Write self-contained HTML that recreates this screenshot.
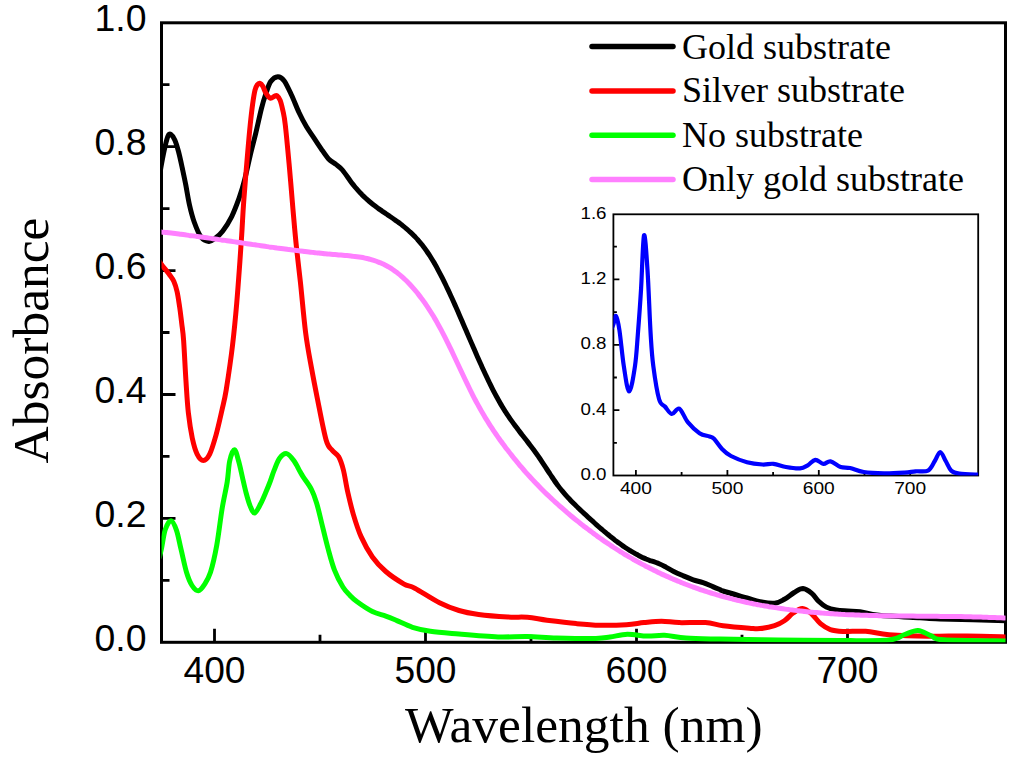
<!DOCTYPE html>
<html><head><meta charset="utf-8"><style>html,body{margin:0;padding:0;background:#fff;width:1024px;height:762px;overflow:hidden}svg{display:block}</style></head><body>
<svg width="1024" height="762" viewBox="0 0 1024 762">
<rect x="0" y="0" width="1024" height="762" fill="#fff"/>
<defs><clipPath id="cp"><rect x="161.5" y="22.8" width="844.0" height="619.5"/></clipPath><clipPath id="cpi"><rect x="613.4" y="214.3" width="364.80000000000007" height="261.2"/></clipPath></defs>
<rect x="161.5" y="22.8" width="844.0" height="619.5" fill="none" stroke="#000" stroke-width="3.0"/>
<path d="M214.5,642.3 V628.8 M320.0,642.3 V634.8 M425.5,642.3 V628.8 M531.0,642.3 V634.8 M636.5,642.3 V628.8 M742.0,642.3 V634.8 M847.5,642.3 V628.8 M953.0,642.3 V634.8 M161.5,580.3 H169.5 M161.5,518.4 H175.5 M161.5,456.4 H169.5 M161.5,394.5 H175.5 M161.5,332.5 H169.5 M161.5,270.6 H175.5 M161.5,208.6 H169.5 M161.5,146.7 H175.5 M161.5,84.7 H169.5" stroke="#000" stroke-width="2.8" fill="none"/>
<text x="146.5" y="650.8" text-anchor="end" font-family="'Liberation Sans', sans-serif" font-size="36" textLength="52" lengthAdjust="spacingAndGlyphs">0.0</text>
<text x="146.5" y="526.9" text-anchor="end" font-family="'Liberation Sans', sans-serif" font-size="36" textLength="52" lengthAdjust="spacingAndGlyphs">0.2</text>
<text x="146.5" y="403.0" text-anchor="end" font-family="'Liberation Sans', sans-serif" font-size="36" textLength="52" lengthAdjust="spacingAndGlyphs">0.4</text>
<text x="146.5" y="279.1" text-anchor="end" font-family="'Liberation Sans', sans-serif" font-size="36" textLength="52" lengthAdjust="spacingAndGlyphs">0.6</text>
<text x="146.5" y="155.2" text-anchor="end" font-family="'Liberation Sans', sans-serif" font-size="36" textLength="52" lengthAdjust="spacingAndGlyphs">0.8</text>
<text x="146.5" y="31.3" text-anchor="end" font-family="'Liberation Sans', sans-serif" font-size="36" textLength="52" lengthAdjust="spacingAndGlyphs">1.0</text>
<text x="183.5" y="683" font-family="'Liberation Sans', sans-serif" font-size="36" textLength="62" lengthAdjust="spacingAndGlyphs">400</text>
<text x="394.5" y="683" font-family="'Liberation Sans', sans-serif" font-size="36" textLength="62" lengthAdjust="spacingAndGlyphs">500</text>
<text x="605.5" y="683" font-family="'Liberation Sans', sans-serif" font-size="36" textLength="62" lengthAdjust="spacingAndGlyphs">600</text>
<text x="816.5" y="683" font-family="'Liberation Sans', sans-serif" font-size="36" textLength="62" lengthAdjust="spacingAndGlyphs">700</text>
<text x="405" y="742" font-family="'Liberation Serif', serif" font-size="51.5">Wavelength (nm)</text>
<text transform="translate(47.5,463.5) rotate(-90)" x="0" y="0" font-family="'Liberation Serif', serif" font-size="51.5">Absorbance</text>
<g clip-path="url(#cp)" fill="none" stroke-linejoin="round" stroke-linecap="round">
<path d="M159.0,180.0 C159.4,177.3 160.4,169.8 161.5,164.0 C162.6,158.2 164.2,150.2 165.3,145.5 C166.4,140.8 167.1,137.9 168.0,136.0 C168.9,134.1 169.7,133.6 170.8,134.3 C171.9,135.0 173.5,137.1 174.8,140.0 C176.1,142.9 177.3,147.0 178.5,151.5 C179.7,156.0 180.9,161.6 182.1,167.2 C183.3,172.8 184.6,178.7 185.8,185.0 C187.0,191.3 188.1,198.8 189.5,205.0 C190.9,211.2 192.3,216.7 194.2,222.0 C196.1,227.3 198.6,233.8 201.0,237.0 C203.4,240.2 206.5,241.2 208.8,241.4 C211.1,241.7 212.7,240.2 215.0,238.5 C217.3,236.8 219.8,235.0 222.6,231.3 C225.4,227.7 228.9,222.1 231.7,216.6 C234.4,211.1 236.9,204.3 239.1,198.2 C241.2,192.1 242.8,186.9 244.6,179.8 C246.4,172.8 248.3,163.6 250.1,155.9 C251.9,148.2 253.7,141.7 255.6,133.9 C257.5,126.1 259.6,115.9 261.3,109.1 C263.0,102.3 264.4,97.9 266.0,93.3 C267.6,88.7 268.7,84.3 270.7,81.5 C272.7,78.7 275.6,76.8 277.8,76.7 C280.0,76.6 281.8,77.7 284.1,80.7 C286.4,83.8 289.0,89.7 291.5,95.0 C294.0,100.3 296.5,107.2 299.0,112.5 C301.5,117.8 304.0,122.6 306.5,126.8 C309.0,131.0 311.4,134.1 313.9,137.8 C316.3,141.5 318.8,145.3 321.2,148.8 C323.6,152.3 326.1,156.3 328.6,158.9 C331.1,161.5 333.7,162.6 336.0,164.4 C338.3,166.2 340.1,167.3 342.4,170.0 C344.7,172.7 348.1,177.8 350.0,180.4 C351.9,183.1 352.7,184.0 354.0,185.7 C355.3,187.4 356.7,188.9 358.0,190.4 C359.3,191.9 360.7,193.3 362.0,194.7 C363.3,196.0 364.7,197.3 366.0,198.5 C367.3,199.8 368.7,200.9 370.0,202.0 C371.3,203.1 372.7,204.2 374.0,205.2 C375.3,206.3 376.7,207.3 378.0,208.2 C379.3,209.2 380.7,210.1 382.0,211.1 C383.3,212.0 384.7,212.9 386.0,213.8 C387.3,214.7 388.7,215.6 390.0,216.5 C391.3,217.4 392.7,218.3 394.0,219.3 C395.3,220.2 396.7,221.1 398.0,222.1 C399.3,223.1 400.7,224.1 402.0,225.1 C403.3,226.2 404.7,227.2 406.0,228.4 C407.3,229.5 408.7,230.6 410.0,231.9 C411.3,233.1 412.7,234.4 414.0,235.7 C415.3,237.1 416.7,238.5 418.0,240.0 C419.3,241.5 420.7,243.1 422.0,244.8 C423.3,246.5 424.7,248.2 426.0,250.1 C427.3,252.0 428.7,254.0 430.0,256.0 C431.3,258.1 432.7,260.3 434.0,262.6 C435.3,264.9 436.7,267.3 438.0,269.8 C439.3,272.2 440.7,274.8 442.0,277.4 C443.3,280.0 444.7,282.8 446.0,285.5 C447.3,288.3 448.7,291.1 450.0,294.0 C451.3,296.9 452.7,299.8 454.0,302.8 C455.3,305.8 456.7,308.8 458.0,311.8 C459.3,314.9 460.7,317.9 462.0,321.0 C463.3,324.1 464.7,327.2 466.0,330.3 C467.3,333.4 468.7,336.5 470.0,339.6 C471.3,342.7 472.7,345.8 474.0,348.8 C475.3,351.9 476.7,355.0 478.0,358.0 C479.3,361.0 480.7,364.0 482.0,366.9 C483.3,369.8 484.7,372.7 486.0,375.6 C487.3,378.4 488.7,381.2 490.0,383.9 C491.3,386.6 492.7,389.3 494.0,391.9 C495.3,394.4 496.7,396.9 498.0,399.3 C499.3,401.7 500.7,404.0 502.0,406.3 C503.3,408.5 504.7,410.6 506.0,412.6 C507.3,414.7 508.7,416.6 510.0,418.6 C511.3,420.5 512.7,422.3 514.0,424.1 C515.3,426.0 516.7,427.7 518.0,429.5 C519.3,431.2 520.7,432.9 522.0,434.7 C523.3,436.4 524.7,438.1 526.0,439.8 C527.3,441.5 528.7,443.2 530.0,445.0 C531.3,446.7 532.7,448.5 534.0,450.3 C535.3,452.1 536.7,454.0 538.0,455.9 C539.3,457.8 540.7,459.8 542.0,461.8 C543.3,463.8 544.7,465.9 546.0,467.9 C547.3,470.0 548.7,472.0 550.0,474.0 C551.3,476.0 552.7,478.0 554.0,480.0 C555.3,481.9 556.7,483.8 558.0,485.6 C559.3,487.4 560.7,489.1 562.0,490.7 C563.3,492.3 564.7,493.9 566.0,495.4 C567.3,496.9 568.7,498.3 570.0,499.7 C571.3,501.1 572.7,502.5 574.0,503.8 C575.3,505.1 576.7,506.4 578.0,507.7 C579.3,509.0 580.7,510.2 582.0,511.5 C583.3,512.7 584.7,514.0 586.0,515.2 C587.3,516.4 588.7,517.7 590.0,518.9 C591.3,520.1 592.7,521.3 594.0,522.5 C595.3,523.7 596.7,524.9 598.0,526.1 C599.3,527.2 600.7,528.4 602.0,529.5 C603.3,530.7 604.7,531.8 606.0,532.9 C607.3,534.0 608.7,535.1 610.0,536.2 C611.3,537.2 612.7,538.3 614.0,539.3 C615.3,540.4 616.7,541.4 618.0,542.4 C619.3,543.3 620.7,544.3 622.0,545.2 C623.3,546.2 624.7,547.1 626.0,548.0 C627.3,548.9 628.7,549.7 630.0,550.5 C631.3,551.4 632.7,552.2 634.0,552.9 C635.3,553.7 636.7,554.4 638.0,555.1 C639.3,555.9 640.7,556.5 642.0,557.2 C643.3,557.8 644.7,558.4 646.0,559.0 C647.3,559.5 647.8,559.8 650.0,560.6 C652.2,561.3 656.5,562.6 659.1,563.7 C661.8,564.8 663.5,565.8 665.9,567.1 C668.3,568.4 670.8,570.0 673.7,571.5 C676.6,573.0 680.2,574.5 683.5,575.9 C686.8,577.3 690.0,578.7 693.2,579.8 C696.5,580.9 699.7,581.6 703.0,582.7 C706.3,583.8 710.0,585.5 712.8,586.6 C715.6,587.8 718.3,588.9 720.0,589.6 C721.7,590.3 718.5,589.6 723.0,591.0 C727.5,592.4 740.8,596.2 747.0,598.0 C753.2,599.8 755.4,600.8 760.0,601.7 C764.6,602.6 770.5,603.6 774.6,603.2 C778.7,602.8 781.1,601.1 784.4,599.3 C787.7,597.5 791.1,594.3 794.2,592.5 C797.3,590.7 800.1,588.5 803.0,588.6 C805.9,588.8 809.2,591.3 811.8,593.4 C814.4,595.5 816.2,599.0 818.6,601.3 C821.0,603.6 823.5,605.6 826.4,607.1 C829.3,608.6 832.6,609.4 836.2,610.0 C839.8,610.6 843.9,610.7 847.9,611.0 C851.9,611.3 854.8,611.1 860.0,611.8 C865.2,612.5 869.0,614.3 879.0,615.3 C889.0,616.3 909.8,617.2 920.0,617.8 C930.2,618.4 925.3,618.5 940.0,619.0 C954.7,619.5 996.7,620.4 1008.0,620.7" stroke="#000000" stroke-width="5.0"/>
<path d="M158.0,259.0 C158.6,259.9 159.6,262.0 161.5,264.5 C163.4,267.0 167.1,271.4 169.2,274.2 C171.2,277.0 172.5,278.3 173.8,281.2 C175.1,284.1 176.1,287.3 177.1,291.7 C178.1,296.1 178.9,302.2 179.7,307.5 C180.5,312.8 181.0,317.7 181.7,323.2 C182.3,328.7 182.9,330.6 183.6,340.3 C184.3,350.0 185.2,369.4 186.0,381.5 C186.8,393.6 187.3,403.6 188.4,413.1 C189.5,422.6 190.9,431.5 192.3,438.3 C193.8,445.1 195.2,450.4 197.1,454.1 C198.9,457.8 201.3,460.4 203.4,460.4 C205.5,460.4 207.6,458.3 209.7,454.1 C211.8,449.9 213.9,442.5 216.0,435.1 C218.1,427.8 220.3,417.5 222.0,410.0 C223.7,402.5 224.4,400.8 226.2,390.0 C227.9,379.2 230.8,359.9 232.5,345.5 C234.2,331.1 235.5,317.5 236.7,303.5 C237.9,289.5 239.0,273.8 239.9,261.5 C240.8,249.2 241.4,239.9 242.0,230.0 C242.6,220.1 242.8,214.2 243.7,201.9 C244.6,189.6 246.3,168.7 247.4,155.9 C248.5,143.1 249.3,133.6 250.2,125.0 C251.1,116.4 251.8,110.2 252.6,104.4 C253.4,98.6 254.2,93.5 255.0,90.2 C255.8,86.9 256.4,85.9 257.3,84.7 C258.2,83.5 259.2,83.0 260.1,83.3 C261.0,83.6 261.8,84.6 262.8,86.3 C263.8,88.0 264.8,91.3 266.0,93.3 C267.2,95.3 268.9,97.6 270.3,98.1 C271.7,98.6 273.5,96.5 274.6,96.1 C275.7,95.7 276.1,95.0 277.0,95.7 C277.9,96.4 279.2,97.9 280.2,100.4 C281.2,102.9 282.0,106.6 282.9,110.7 C283.8,114.8 284.2,115.6 285.3,125.0 C286.4,134.4 288.1,153.1 289.4,167.2 C290.7,181.3 291.8,196.4 293.0,209.8 C294.2,223.2 295.2,235.4 296.5,247.6 C297.8,259.8 299.0,268.9 300.5,283.0 C302.0,297.1 303.8,318.3 305.6,332.5 C307.4,346.7 309.5,357.0 311.5,368.0 C313.5,379.0 315.0,386.7 317.4,398.7 C319.8,410.7 323.6,431.4 326.1,440.0 C328.6,448.6 330.3,447.7 332.4,450.5 C334.5,453.3 336.9,453.6 338.7,456.8 C340.5,460.1 341.9,464.1 343.4,470.0 C344.9,475.9 346.1,484.9 347.8,492.3 C349.5,499.7 351.2,507.2 353.4,514.6 C355.6,522.0 358.0,529.8 361.2,536.9 C364.4,544.0 368.3,551.2 372.4,557.0 C376.5,562.8 380.6,567.0 385.8,571.5 C391.0,576.0 398.8,581.0 403.6,583.8 C408.4,586.6 408.8,585.1 414.8,588.2 C420.8,591.4 432.1,599.0 439.5,602.7 C446.9,606.4 452.5,608.5 459.0,610.5 C465.5,612.5 470.5,613.3 478.6,614.4 C486.8,615.5 499.8,616.5 507.9,617.0 C516.0,617.5 520.9,616.8 527.4,617.3 C533.9,617.8 538.9,619.2 547.0,620.3 C555.1,621.3 567.5,622.8 576.3,623.6 C585.1,624.4 591.6,625.0 600.0,625.2 C608.4,625.4 619.1,625.1 626.4,624.7 C633.7,624.3 638.0,623.2 643.9,622.6 C649.8,622.0 655.6,621.2 661.5,621.2 C667.4,621.2 671.8,622.4 679.1,622.6 C686.4,622.8 698.1,622.1 705.4,622.6 C712.7,623.1 715.7,624.8 723.0,625.7 C730.3,626.6 743.2,627.7 749.4,628.2 C755.6,628.7 755.8,629.0 760.0,628.6 C764.2,628.2 770.5,627.0 774.6,625.7 C778.7,624.4 781.3,622.9 784.4,620.8 C787.5,618.7 790.2,615.0 793.2,613.0 C796.2,611.0 799.4,608.4 802.5,608.6 C805.6,608.8 808.8,611.5 811.8,614.0 C814.8,616.5 817.4,621.1 820.5,623.7 C823.6,626.3 826.5,628.3 830.3,629.6 C834.0,630.9 837.1,631.2 843.0,631.5 C848.9,631.8 857.9,630.8 865.6,631.3 C873.3,631.8 878.6,633.9 889.0,634.7 C899.4,635.5 915.0,636.1 928.0,636.3 C941.0,636.5 953.7,635.8 967.0,635.9 C980.3,636.0 1001.2,636.8 1008.0,637.0" stroke="#ff0000" stroke-width="5.0"/>
<path d="M159.5,557.0 C159.8,555.6 160.5,553.1 161.5,548.5 C162.5,543.9 163.7,534.1 165.3,529.5 C166.9,524.9 169.1,520.7 171.0,520.8 C172.9,520.9 174.8,525.6 176.5,530.3 C178.2,535.0 179.3,542.2 181.0,549.2 C182.7,556.2 184.7,566.2 186.5,572.3 C188.3,578.3 190.0,582.4 192.0,585.5 C194.0,588.6 196.3,590.9 198.3,590.8 C200.3,590.7 202.2,588.0 204.2,584.9 C206.2,581.8 208.4,578.9 210.5,572.3 C212.6,565.6 214.9,555.5 216.8,545.0 C218.7,534.5 220.3,519.8 222.0,509.3 C223.7,498.8 225.9,490.1 227.2,482.0 C228.5,473.9 228.5,466.4 229.7,461.0 C230.9,455.6 232.9,449.8 234.4,449.8 C235.9,449.8 237.3,456.5 238.6,461.0 C239.9,465.5 241.1,471.4 242.3,476.7 C243.5,481.9 244.7,487.6 246.0,492.5 C247.3,497.4 248.8,502.7 250.2,506.1 C251.6,509.5 253.0,513.4 254.7,513.0 C256.4,512.6 258.7,507.4 260.5,504.0 C262.3,500.6 264.1,496.2 265.7,492.5 C267.3,488.8 268.6,485.7 270.0,482.0 C271.4,478.3 272.5,474.3 274.1,470.4 C275.7,466.5 277.3,461.2 279.4,458.4 C281.5,455.6 284.2,453.2 286.7,453.6 C289.1,454.0 291.9,458.0 294.1,461.0 C296.3,464.0 298.5,468.9 300.0,471.5 C301.5,474.1 301.1,473.7 303.0,476.7 C304.9,479.7 309.1,484.9 311.4,489.3 C313.7,493.7 314.9,497.2 316.6,503.0 C318.4,508.8 320.0,516.3 321.9,524.0 C323.8,531.7 326.1,541.5 328.2,549.2 C330.3,556.9 332.1,563.9 334.5,570.2 C336.9,576.5 340.3,582.8 342.9,587.0 C345.5,591.2 347.7,593.0 350.0,595.4 C352.3,597.8 353.1,598.9 356.8,601.6 C360.5,604.3 367.6,609.2 372.4,611.6 C377.2,614.0 381.7,614.6 385.8,616.1 C389.9,617.6 392.4,618.7 396.9,620.6 C401.3,622.5 406.9,625.5 412.5,627.3 C418.1,629.1 422.6,630.1 430.4,631.2 C438.1,632.3 447.7,633.0 459.0,634.0 C470.3,635.0 486.6,636.5 498.0,636.9 C509.4,637.3 517.6,636.3 527.4,636.5 C537.2,636.7 545.3,637.6 556.7,637.9 C568.1,638.2 586.9,638.5 595.8,638.4 C604.7,638.2 604.7,637.7 610.0,637.0 C615.3,636.3 621.2,634.4 627.4,634.2 C633.6,634.1 640.8,635.9 647.0,636.1 C653.2,636.3 658.0,634.9 664.5,635.2 C671.0,635.5 676.8,637.5 686.0,638.1 C695.2,638.8 704.7,638.8 720.0,639.1 C735.3,639.4 758.0,639.8 778.0,640.0 C798.0,640.2 821.5,640.6 840.0,640.6 C858.5,640.6 878.2,640.9 889.0,639.9 C899.8,638.9 899.9,636.1 904.7,634.5 C909.5,632.9 913.6,630.3 918.0,630.5 C922.4,630.7 927.0,634.2 931.3,635.8 C935.6,637.3 931.0,638.9 943.8,639.8 C956.6,640.7 997.3,640.8 1008.0,641.0" stroke="#00ff00" stroke-width="5.0"/>
<path d="M158.0,230.5 C158.5,230.7 159.8,231.6 161.0,231.9 C162.2,232.3 163.7,232.2 165.0,232.4 C166.3,232.5 167.7,232.7 169.0,232.8 C170.3,233.0 171.7,233.2 173.0,233.3 C174.3,233.5 175.7,233.7 177.0,233.8 C178.3,234.0 179.7,234.1 181.0,234.3 C182.3,234.5 183.7,234.7 185.0,234.8 C186.3,235.0 187.7,235.2 189.0,235.4 C190.3,235.5 191.7,235.7 193.0,235.9 C194.3,236.1 195.7,236.3 197.0,236.4 C198.3,236.6 199.7,236.8 201.0,237.0 C202.3,237.2 203.7,237.4 205.0,237.6 C206.3,237.7 207.7,237.9 209.0,238.1 C210.3,238.3 211.7,238.5 213.0,238.7 C214.3,238.9 215.7,239.1 217.0,239.3 C218.3,239.5 219.7,239.7 221.0,239.9 C222.3,240.0 223.7,240.2 225.0,240.4 C226.3,240.6 227.7,240.8 229.0,241.0 C230.3,241.2 231.7,241.4 233.0,241.6 C234.3,241.8 235.7,242.0 237.0,242.2 C238.3,242.4 239.7,242.6 241.0,242.8 C242.3,243.0 243.7,243.2 245.0,243.4 C246.3,243.6 247.7,243.8 249.0,244.0 C250.3,244.2 251.7,244.4 253.0,244.6 C254.3,244.8 255.7,244.9 257.0,245.1 C258.3,245.3 259.7,245.5 261.0,245.7 C262.3,245.9 263.7,246.1 265.0,246.3 C266.3,246.5 267.7,246.7 269.0,246.9 C270.3,247.0 271.7,247.2 273.0,247.4 C274.3,247.6 275.7,247.8 277.0,248.0 C278.3,248.1 279.7,248.3 281.0,248.5 C282.3,248.7 283.7,248.9 285.0,249.0 C286.3,249.2 287.7,249.4 289.0,249.6 C290.3,249.7 291.7,249.9 293.0,250.1 C294.3,250.2 295.7,250.4 297.0,250.6 C298.3,250.7 299.7,250.9 301.0,251.1 C302.3,251.2 303.7,251.4 305.0,251.5 C306.3,251.7 307.7,251.9 309.0,252.0 C310.3,252.2 311.7,252.3 313.0,252.4 C314.3,252.6 315.7,252.7 317.0,252.9 C318.3,253.0 319.7,253.2 321.0,253.3 C322.3,253.4 323.7,253.6 325.0,253.7 C326.3,253.8 327.7,253.9 329.0,254.1 C330.3,254.2 331.7,254.3 333.0,254.4 C334.3,254.5 335.7,254.6 337.0,254.7 C338.3,254.9 339.7,255.0 341.0,255.1 C342.3,255.2 343.7,255.3 345.0,255.4 C346.3,255.5 347.7,255.6 349.0,255.7 C350.3,255.9 351.7,256.0 353.0,256.2 C354.3,256.3 355.7,256.5 357.0,256.7 C358.3,256.9 359.7,257.1 361.0,257.3 C362.3,257.5 363.7,257.8 365.0,258.1 C366.3,258.4 367.7,258.7 369.0,259.0 C370.3,259.4 371.7,259.7 373.0,260.2 C374.3,260.6 375.7,261.0 377.0,261.5 C378.3,262.0 379.7,262.5 381.0,263.1 C382.3,263.7 383.7,264.3 385.0,265.0 C386.3,265.7 387.7,266.4 389.0,267.2 C390.3,268.0 391.7,268.9 393.0,269.8 C394.3,270.7 395.7,271.6 397.0,272.6 C398.3,273.7 399.7,274.7 401.0,275.9 C402.3,277.0 403.7,278.2 405.0,279.5 C406.3,280.7 407.7,282.1 409.0,283.4 C410.3,284.8 411.7,286.3 413.0,287.8 C414.3,289.3 415.7,290.9 417.0,292.5 C418.3,294.2 419.7,295.9 421.0,297.7 C422.3,299.4 423.7,301.3 425.0,303.2 C426.3,305.1 427.7,307.1 429.0,309.2 C430.3,311.2 431.7,313.4 433.0,315.6 C434.3,317.8 435.7,320.0 437.0,322.4 C438.3,324.7 439.7,327.1 441.0,329.6 C442.3,332.1 443.7,334.7 445.0,337.3 C446.3,339.9 447.7,342.7 449.0,345.4 C450.3,348.1 451.7,350.9 453.0,353.7 C454.3,356.5 455.7,359.4 457.0,362.2 C458.3,365.1 459.7,367.9 461.0,370.8 C462.3,373.6 463.7,376.5 465.0,379.3 C466.3,382.0 467.7,384.8 469.0,387.5 C470.3,390.3 471.7,393.0 473.0,395.6 C474.3,398.2 475.7,400.7 477.0,403.2 C478.3,405.6 479.7,408.0 481.0,410.4 C482.3,412.7 483.7,414.9 485.0,417.2 C486.3,419.4 487.7,421.5 489.0,423.6 C490.3,425.7 491.7,427.8 493.0,429.8 C494.3,431.8 495.7,433.7 497.0,435.6 C498.3,437.5 499.7,439.4 501.0,441.3 C502.3,443.1 503.7,444.9 505.0,446.7 C506.3,448.5 507.7,450.2 509.0,451.9 C510.3,453.7 511.7,455.3 513.0,457.0 C514.3,458.7 515.7,460.3 517.0,461.9 C518.3,463.5 519.7,465.1 521.0,466.7 C522.3,468.3 523.7,469.8 525.0,471.3 C526.3,472.8 527.7,474.3 529.0,475.8 C530.3,477.2 531.7,478.7 533.0,480.1 C534.3,481.5 535.7,482.9 537.0,484.3 C538.3,485.7 539.7,487.1 541.0,488.4 C542.3,489.7 543.7,491.1 545.0,492.4 C546.3,493.7 547.7,495.0 549.0,496.2 C550.3,497.5 551.7,498.7 553.0,500.0 C554.3,501.2 555.7,502.4 557.0,503.6 C558.3,504.9 559.7,506.0 561.0,507.2 C562.3,508.4 563.7,509.6 565.0,510.7 C566.3,511.9 567.7,513.0 569.0,514.1 C570.3,515.3 571.7,516.4 573.0,517.5 C574.3,518.6 575.7,519.7 577.0,520.7 C578.3,521.8 579.7,522.9 581.0,523.9 C582.3,525.0 583.7,526.0 585.0,527.1 C586.3,528.1 587.7,529.1 589.0,530.1 C590.3,531.1 591.7,532.1 593.0,533.1 C594.3,534.1 595.7,535.0 597.0,536.0 C598.3,537.0 599.7,537.9 601.0,538.8 C602.3,539.8 603.7,540.7 605.0,541.6 C606.3,542.5 607.7,543.4 609.0,544.3 C610.3,545.2 611.7,546.1 613.0,547.0 C614.3,547.8 615.7,548.7 617.0,549.5 C618.3,550.4 619.7,551.2 621.0,552.0 C622.3,552.9 623.7,553.7 625.0,554.5 C626.3,555.3 627.7,556.1 629.0,556.9 C630.3,557.6 631.7,558.4 633.0,559.2 C634.3,559.9 635.7,560.7 637.0,561.4 C638.3,562.2 639.7,562.9 641.0,563.6 C642.3,564.3 643.7,565.0 645.0,565.7 C646.3,566.4 647.7,567.1 649.0,567.8 C650.3,568.5 651.7,569.2 653.0,569.8 C654.3,570.5 655.7,571.1 657.0,571.8 C658.3,572.4 659.7,573.1 661.0,573.7 C662.3,574.3 663.7,574.9 665.0,575.5 C666.3,576.1 667.7,576.7 669.0,577.3 C670.3,577.9 671.7,578.5 673.0,579.1 C674.3,579.6 675.7,580.2 677.0,580.7 C678.3,581.3 679.7,581.8 681.0,582.4 C682.3,582.9 683.7,583.4 685.0,584.0 C686.3,584.5 687.7,585.0 689.0,585.5 C690.3,586.0 691.7,586.5 693.0,587.0 C694.3,587.4 695.7,587.9 697.0,588.4 C698.3,588.9 699.7,589.3 701.0,589.8 C702.3,590.2 703.7,590.7 705.0,591.1 C706.3,591.5 707.7,592.0 709.0,592.4 C710.3,592.8 711.7,593.2 713.0,593.6 C714.3,594.0 715.7,594.4 717.0,594.8 C718.3,595.2 719.7,595.6 721.0,596.0 C722.3,596.3 723.7,596.7 725.0,597.1 C726.3,597.4 727.7,597.8 729.0,598.1 C730.3,598.5 731.7,598.8 733.0,599.2 C734.3,599.5 735.7,599.8 737.0,600.2 C738.3,600.5 739.7,600.8 741.0,601.1 C742.3,601.4 743.7,601.7 745.0,602.0 C746.3,602.3 747.7,602.6 749.0,602.9 C750.3,603.2 751.7,603.4 753.0,603.7 C754.3,604.0 755.7,604.2 757.0,604.5 C758.3,604.8 759.7,605.0 761.0,605.3 C762.3,605.5 763.7,605.7 765.0,606.0 C766.3,606.2 767.7,606.4 769.0,606.7 C770.3,606.9 771.7,607.1 773.0,607.3 C774.3,607.5 775.7,607.7 777.0,607.9 C778.3,608.2 779.7,608.3 781.0,608.5 C782.3,608.7 783.7,608.9 785.0,609.1 C786.3,609.3 787.7,609.5 789.0,609.6 C790.3,609.8 791.7,610.0 793.0,610.1 C794.3,610.3 795.7,610.5 797.0,610.6 C798.3,610.8 799.7,610.9 801.0,611.1 C802.3,611.2 803.7,611.4 805.0,611.5 C806.3,611.6 807.7,611.8 809.0,611.9 C810.3,612.0 811.7,612.1 813.0,612.3 C814.3,612.4 815.7,612.5 817.0,612.6 C818.3,612.7 819.7,612.8 821.0,612.9 C822.3,613.1 823.7,613.2 825.0,613.3 C826.3,613.3 827.7,613.4 829.0,613.5 C830.3,613.6 831.7,613.7 833.0,613.8 C834.3,613.9 835.7,614.0 837.0,614.0 C838.3,614.1 839.7,614.2 841.0,614.3 C842.3,614.3 843.7,614.4 845.0,614.5 C846.3,614.5 847.7,614.6 849.0,614.7 C850.3,614.7 851.7,614.8 853.0,614.8 C854.3,614.9 855.7,615.0 857.0,615.0 C858.3,615.1 859.7,615.1 861.0,615.2 C862.3,615.2 863.7,615.2 865.0,615.3 C866.3,615.3 867.7,615.4 869.0,615.4 C870.3,615.4 871.7,615.5 873.0,615.5 C874.3,615.5 875.7,615.6 877.0,615.6 C878.3,615.6 879.7,615.7 881.0,615.7 C882.3,615.7 883.7,615.8 885.0,615.8 C886.3,615.8 887.7,615.8 889.0,615.8 C890.3,615.9 891.7,615.9 893.0,615.9 C894.3,615.9 895.7,615.9 897.0,616.0 C898.3,616.0 899.7,616.0 901.0,616.0 C902.3,616.0 903.7,616.0 905.0,616.1 C906.3,616.1 907.7,616.1 909.0,616.1 C910.3,616.1 911.7,616.1 913.0,616.1 C914.3,616.2 915.7,616.2 917.0,616.2 C918.3,616.2 919.7,616.2 921.0,616.2 C922.3,616.2 923.7,616.2 925.0,616.2 C926.3,616.3 927.7,616.3 929.0,616.3 C930.3,616.3 931.7,616.3 933.0,616.3 C934.3,616.3 935.7,616.3 937.0,616.3 C938.3,616.4 939.7,616.4 941.0,616.4 C942.3,616.4 943.7,616.4 945.0,616.4 C946.3,616.4 947.7,616.5 949.0,616.5 C950.3,616.5 951.7,616.5 953.0,616.5 C954.3,616.5 955.7,616.6 957.0,616.6 C958.3,616.6 959.7,616.6 961.0,616.6 C962.3,616.7 963.7,616.7 965.0,616.7 C966.3,616.7 967.7,616.8 969.0,616.8 C970.3,616.8 971.7,616.9 973.0,616.9 C974.3,616.9 975.7,616.9 977.0,617.0 C978.3,617.0 979.7,617.1 981.0,617.1 C982.3,617.1 983.7,617.2 985.0,617.2 C986.3,617.3 987.7,617.3 989.0,617.4 C990.3,617.4 991.7,617.5 993.0,617.5 C994.3,617.6 995.7,617.6 997.0,617.7 C998.3,617.7 999.7,617.8 1001.0,617.8 C1002.3,617.9 1004.3,618.0 1005.0,618.0" stroke="#ff80ff" stroke-width="5.0"/>
</g>
<line x1="592" y1="46.4" x2="673" y2="46.4" stroke="#000" stroke-width="5.5" stroke-linecap="round"/>
<text x="682" y="58.9" font-family="'Liberation Serif', serif" font-size="36">Gold substrate</text>
<line x1="592" y1="91.1" x2="673" y2="91.1" stroke="#f00" stroke-width="5.5" stroke-linecap="round"/>
<text x="682" y="102.3" font-family="'Liberation Serif', serif" font-size="36">Silver substrate</text>
<line x1="592" y1="135.3" x2="673" y2="135.3" stroke="#0f0" stroke-width="5.5" stroke-linecap="round"/>
<text x="682" y="147.1" font-family="'Liberation Serif', serif" font-size="36">No substrate</text>
<line x1="592" y1="179.4" x2="673" y2="179.4" stroke="#ff80ff" stroke-width="5.5" stroke-linecap="round"/>
<text x="682" y="191" font-family="'Liberation Serif', serif" font-size="36">Only gold substrate</text>
<rect x="613.4" y="214.3" width="364.80000000000007" height="261.2" fill="#fff" stroke="#000" stroke-width="1.8"/>
<path d="M635.9,475.5 V470.0 M681.6,475.5 V472.0 M727.4,475.5 V470.0 M773.1,475.5 V472.0 M818.8,475.5 V470.0 M864.5,475.5 V472.0 M910.2,475.5 V470.0 M956.0,475.5 V472.0 M613.4,442.8 H616.9 M613.4,410.1 H619.4 M613.4,377.5 H616.9 M613.4,344.8 H619.4 M613.4,312.1 H616.9 M613.4,279.4 H619.4 M613.4,246.7 H616.9" stroke="#000" stroke-width="1.8" fill="none"/>
<text x="606.5" y="480.0" text-anchor="end" font-family="'Liberation Sans', sans-serif" font-size="16" textLength="26" lengthAdjust="spacingAndGlyphs">0.0</text>
<text x="606.5" y="414.6" text-anchor="end" font-family="'Liberation Sans', sans-serif" font-size="16" textLength="26" lengthAdjust="spacingAndGlyphs">0.4</text>
<text x="606.5" y="349.3" text-anchor="end" font-family="'Liberation Sans', sans-serif" font-size="16" textLength="26" lengthAdjust="spacingAndGlyphs">0.8</text>
<text x="606.5" y="283.9" text-anchor="end" font-family="'Liberation Sans', sans-serif" font-size="16" textLength="26" lengthAdjust="spacingAndGlyphs">1.2</text>
<text x="606.5" y="218.6" text-anchor="end" font-family="'Liberation Sans', sans-serif" font-size="16" textLength="26" lengthAdjust="spacingAndGlyphs">1.6</text>
<text x="619.9" y="494" font-family="'Liberation Sans', sans-serif" font-size="16" textLength="32" lengthAdjust="spacingAndGlyphs">400</text>
<text x="711.4" y="494" font-family="'Liberation Sans', sans-serif" font-size="16" textLength="32" lengthAdjust="spacingAndGlyphs">500</text>
<text x="802.8" y="494" font-family="'Liberation Sans', sans-serif" font-size="16" textLength="32" lengthAdjust="spacingAndGlyphs">600</text>
<text x="894.2" y="494" font-family="'Liberation Sans', sans-serif" font-size="16" textLength="32" lengthAdjust="spacingAndGlyphs">700</text>
<g clip-path="url(#cpi)" fill="none" stroke-linejoin="round" stroke-linecap="round"><path d="M611.0,330.0 C611.4,329.0 612.7,326.3 613.5,324.0 C614.3,321.7 615.0,315.0 616.0,316.0 C617.0,317.0 618.1,321.7 619.4,330.0 C620.7,338.3 622.2,355.8 623.8,366.0 C625.4,376.2 627.3,391.5 629.2,391.5 C631.1,391.5 633.6,375.4 635.0,366.0 C636.4,356.6 636.8,347.7 637.8,335.0 C638.8,322.3 640.0,306.6 641.0,290.0 C642.0,273.4 642.9,238.8 644.0,235.5 C645.1,232.2 646.4,253.4 647.5,270.0 C648.6,286.6 649.7,319.0 650.7,335.0 C651.7,351.0 651.9,355.3 653.3,366.0 C654.7,376.7 657.2,392.6 659.1,399.3 C661.0,406.1 662.8,404.1 664.9,406.5 C667.0,408.9 669.4,413.6 671.8,414.0 C674.2,414.4 676.6,407.3 679.3,408.7 C682.0,410.1 684.6,418.3 688.0,422.4 C691.4,426.5 695.9,430.8 699.5,433.2 C703.1,435.6 707.1,435.6 709.5,436.5 C711.9,437.4 711.9,436.7 714.0,438.8 C716.1,440.9 719.2,446.1 722.0,449.0 C724.8,451.9 726.8,453.8 731.0,456.0 C735.2,458.2 741.8,460.8 747.0,462.2 C752.2,463.6 758.1,464.2 762.5,464.5 C766.9,464.8 769.5,463.4 773.4,463.8 C777.3,464.2 781.6,466.2 786.0,467.0 C790.4,467.8 796.4,468.7 800.0,468.4 C803.6,468.1 805.2,466.7 807.8,465.3 C810.3,463.9 812.7,460.1 815.3,459.8 C817.9,459.6 820.9,463.5 823.4,463.8 C825.9,464.1 827.6,460.9 830.5,461.4 C833.4,461.9 837.4,465.8 840.6,466.9 C843.9,468.0 846.1,467.1 850.0,468.0 C853.9,468.9 858.0,471.1 863.7,472.0 C869.4,472.9 877.2,473.2 884.0,473.3 C890.8,473.4 899.4,472.9 904.7,472.6 C910.0,472.3 911.7,471.6 915.6,471.3 C919.5,471.0 924.8,472.3 928.0,470.6 C931.2,468.9 932.8,464.1 934.8,461.0 C936.8,457.9 938.4,452.0 940.2,452.0 C942.0,452.0 943.9,457.9 945.7,461.0 C947.5,464.1 948.9,468.5 951.2,470.6 C953.5,472.7 954.6,472.9 959.4,473.6 C964.2,474.3 976.6,474.5 980.0,474.7" stroke="#0000ff" stroke-width="4.2"/></g>
</svg>
</body></html>
